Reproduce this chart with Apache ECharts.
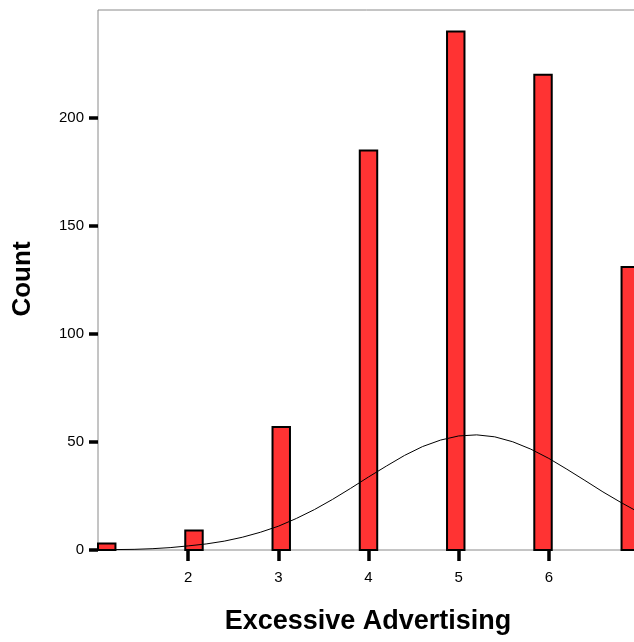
<!DOCTYPE html>
<html>
<head>
<meta charset="utf-8">
<script src="https://cdn.jsdelivr.net/npm/echarts@6/dist/echarts.min.js"></script>
<style>
  html, body { margin: 0; padding: 0; background: #fff; }
  #chart { width: 634px; height: 642px; }
</style>
</head>
<body>
<div id="chart"></div>
<script>
// Response values (1–7) and how many respondents gave each
const scores = [1, 2, 3, 4, 5, 6, 7];
const counts = [3, 9, 57, 185, 240, 220, 131];

// Histogram bins: 31 equal bins spanning the 1–7 range
const binCount = 31;
const rangeMin = 1;
const rangeMax = 7;

// Fitted normal curve, sampled every 0.2 along the axis
const curveX = [1.0, 1.2, 1.4, 1.6, 1.8, 2.0, 2.2, 2.4, 2.6, 2.8, 3.0, 3.2, 3.4, 3.6, 3.8, 4.0,
                4.2, 4.4, 4.6, 4.8, 5.0, 5.2, 5.4, 5.6, 5.8, 6.0, 6.2, 6.4, 6.6, 6.8, 7.0];
const curveY = [0.1, 0.2, 0.3, 0.6, 1.1, 1.9, 2.8, 4.1, 5.9, 8.2, 11.0, 14.6, 18.7, 23.4, 28.5, 33.8,
                38.9, 43.8, 47.9, 50.9, 52.8, 53.3, 52.4, 50.1, 46.7, 42.4, 37.4, 32.2, 26.9, 22.0, 17.4];

// Tick labels
const xTicks = [2, 3, 4, 5, 6, 7];
const yTicks = [0, 50, 100, 150, 200];

const binWidth = (rangeMax - rangeMin) / binCount;
const bars = scores.map((s, i) => {
  let b = Math.floor((s - rangeMin) / binWidth + 1e-9);
  if (b >= binCount) b = binCount - 1;
  const x0 = rangeMin + b * binWidth;
  return [x0, x0 + binWidth, counts[i]];
});

const FONT = '"Liberation Sans", Arial, sans-serif';
const chart = echarts.init(document.getElementById('chart'), null, { renderer: 'canvas' });

chart.setOption({
  animation: false,
  backgroundColor: '#ffffff',
  grid: {
    left: 98, top: 10, bottom: 92, right: -5,
    outerBoundsMode: 'none',
    containLabel: false,
    show: true, borderColor: '#8a8a8a', borderWidth: 1, backgroundColor: 'transparent'
  },
  xAxis: {
    type: 'value', min: rangeMin, max: rangeMax, interval: 1,
    axisLine: { show: false },
    splitLine: { show: false },
    axisTick: { show: true, length: 11, customValues: xTicks, lineStyle: { color: '#000', width: 3.5 } },
    axisLabel: { customValues: xTicks, margin: 20, color: '#000', fontSize: 15, fontFamily: FONT }
  },
  yAxis: {
    type: 'value', min: 0, max: 250, interval: 50,
    axisLine: { show: false },
    splitLine: { show: false },
    axisTick: { show: true, length: 9, customValues: yTicks, lineStyle: { color: '#000', width: 3.5 } },
    axisLabel: { customValues: yTicks, margin: 14, color: '#000', fontSize: 15, fontFamily: FONT }
  },
  series: [
    {
      type: 'custom',
      data: bars,
      renderItem: function (params, api) {
        const p0 = api.coord([api.value(0), api.value(2)]);
        const p1 = api.coord([api.value(1), 0]);
        return {
          type: 'rect',
          shape: { x: p0[0], y: p0[1], width: p1[0] - p0[0], height: p1[1] - p0[1] },
          style: { fill: '#ff3333', stroke: '#000', lineWidth: 2 }
        };
      },
      z: 2
    },
    {
      type: 'line',
      data: curveX.map((x, i) => [x, curveY[i]]),
      symbol: 'none',
      smooth: false,
      lineStyle: { color: '#000', width: 1 },
      z: 3
    }
  ],
  graphic: [
    {
      type: 'text',
      x: 23, y: 279, rotation: Math.PI / 2,
      style: {
        text: 'Count', fill: '#000', font: 'bold 26px ' + FONT,
        textAlign: 'center', textVerticalAlign: 'middle'
      }
    },
    {
      type: 'text',
      x: 368, y: 622,
      style: {
        text: 'Excessive Advertising', fill: '#000', font: 'bold 27px ' + FONT,
        textAlign: 'center', textVerticalAlign: 'middle'
      }
    }
  ]
});
</script>
</body>
</html>
